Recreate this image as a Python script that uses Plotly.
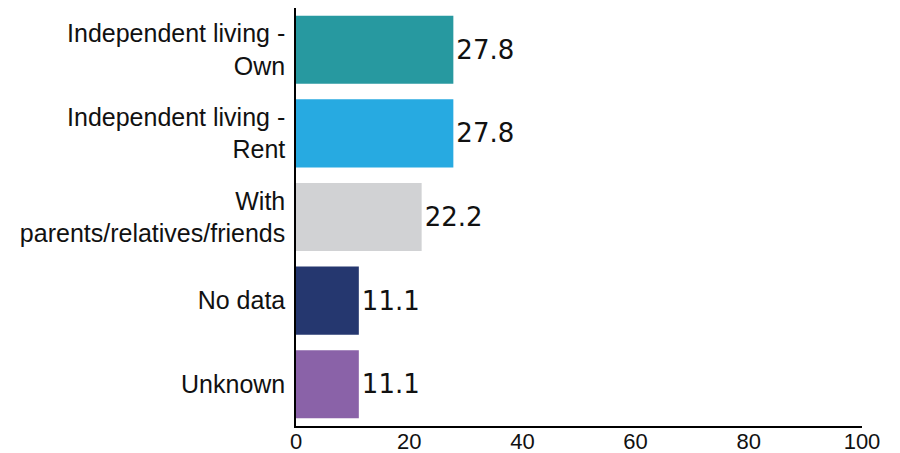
import plotly.graph_objects as go

categories = ["Independent living -<br>Own", "Independent living -<br>Rent",
              "With<br>parents/relatives/friends", "No data", "Unknown"]
values = [27.8, 27.8, 22.2, 11.1, 11.1]
colors = ["#2799A0", "#27AAE1", "#D1D2D4", "#25376F", "#8A62A8"]
labels = ["27.8", "27.8", "22.2", "11.1", "11.1"]
x_ticks = [0, 20, 40, 60, 80, 100]

fig = go.Figure(go.Bar(
    x=values, y=categories, orientation="h",
    marker=dict(color=colors, line=dict(width=0)),
    text=labels, textposition="outside", cliponaxis=False,
    textfont=dict(family="DejaVu Sans", size=26, color="#111111"),
))
# page body has an 8px default margin, so the figure is sized/offset to compensate
fig.update_layout(
    width=892, height=453,
    margin=dict(l=288, r=38, t=0, b=35),
    paper_bgcolor="white", plot_bgcolor="white",
    bargap=0.185, showlegend=False,
)
fig.update_xaxes(range=[0, 100], tickvals=x_ticks, automargin=False,
                 showline=True, linecolor="black", linewidth=1.5,
                 showgrid=False, zeroline=False, ticks="", ticklabelstandoff=-5,
                 tickfont=dict(family="Liberation Sans", size=22, color="#111111"))
fig.update_yaxes(autorange="reversed", automargin=False,
                 showline=True, linecolor="black", linewidth=1.5,
                 showgrid=False, ticks="", ticklabelstandoff=4,
                 tickfont=dict(family="Liberation Sans", size=25, color="#111111"))
fig.write_html("out.html")
